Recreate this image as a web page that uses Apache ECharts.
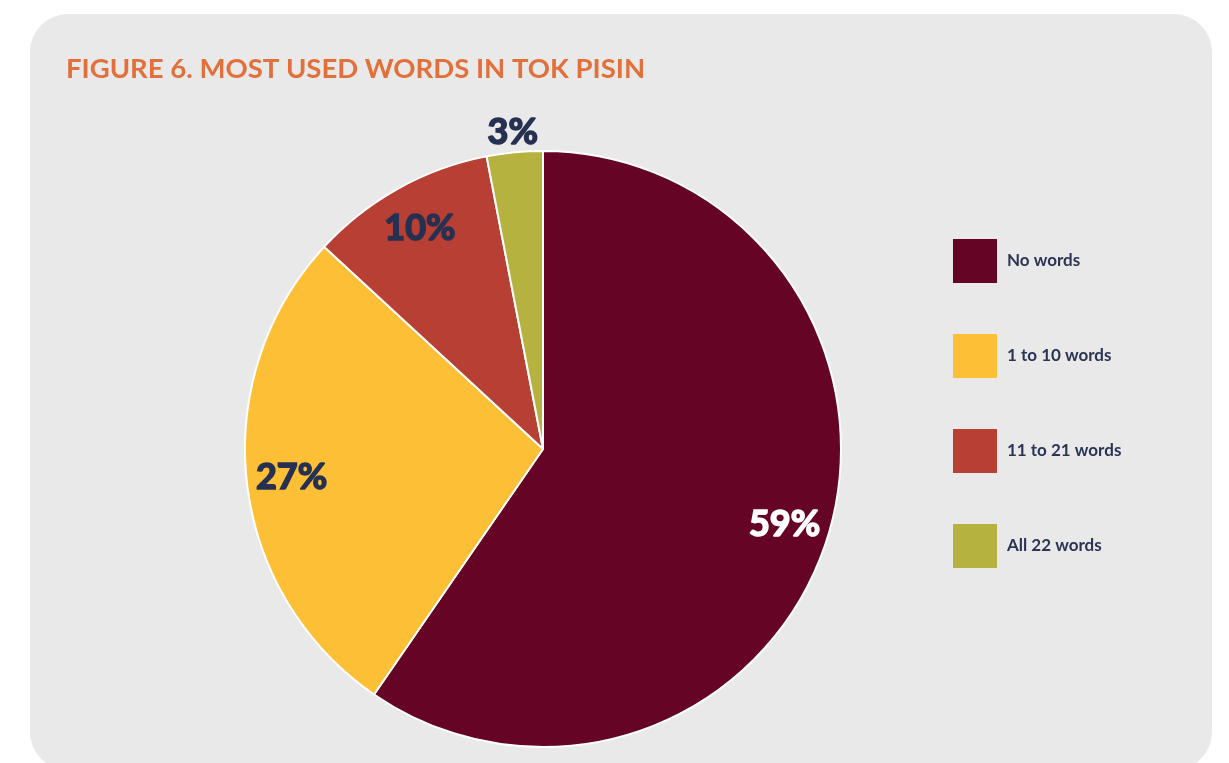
<!DOCTYPE html>
<html>
<head>
<meta charset="utf-8">
<script src="https://cdn.jsdelivr.net/npm/echarts@6/dist/echarts.min.js"></script>
<style>
  html, body { margin: 0; padding: 0; background: #ffffff; }
  #chart { width: 1229px; height: 763px; }
</style>
</head>
<body>
<div id="chart"></div>
<script>
// Share of respondents by number of Tok Pisin words used
const categories = ['No words', '1 to 10 words', '11 to 21 words', 'All 22 words'];
const shares = [59, 27, 10, 3];
const sliceColors = ['#650425', '#fdbf35', '#b83f34', '#b5b23f'];
const labelColors = ['#ffffff', '#263152', '#263152', '#263152'];

const chart = echarts.init(document.getElementById('chart'), null, { renderer: 'canvas' });

const pieCenter = [543, 449];
const labelFont = {
  fontFamily: 'Lato',
  fontWeight: 'bold',
  fontSize: 36
};

// Main slices
const mainData = categories.map((name, i) => ({
  name,
  value: shares[i],
  itemStyle: { color: sliceColors[i] }
}));

// Transparent copies of the slices, used only to place the percentage labels;
// a thin stroke in the text colour gives the heavy display weight
function labelData(showFor) {
  return categories.map((name, i) => ({
    name,
    value: shares[i],
    itemStyle: { color: 'rgba(0,0,0,0)' },
    label: {
      show: showFor(i),
      color: labelColors[i],
      textBorderColor: labelColors[i],
      textBorderWidth: 1.6
    }
  }));
}

const labelSeriesBase = {
  type: 'pie',
  center: pieCenter,
  startAngle: 90,
  clockwise: true,
  silent: true,
  legendHoverLink: false,
  avoidLabelOverlap: false,
  emphasis: { disabled: true },
  labelLine: { show: false },
  z: 3
};

const option = {
  animation: false,
  backgroundColor: '#ffffff',
  graphic: [{
    type: 'rect',
    z: -10,
    shape: { x: 30, y: 14, width: 1182, height: 756, r: 38 },
    style: { fill: '#e9e9e9' },
    silent: true
  }],
  title: {
    text: 'FIGURE 6. MOST USED WORDS IN TOK PISIN',
    left: 66,
    top: 55,
    padding: 0,
    textStyle: {
      fontFamily: 'Lato',
      fontWeight: 'bold',
      fontSize: 27.5,
      color: '#e2703a'
    }
  },
  legend: {
    data: categories,
    orient: 'vertical',
    left: 953,
    top: 239,
    padding: 0,
    itemWidth: 44,
    itemHeight: 44,
    itemGap: 51,
    icon: 'rect',
    selectedMode: false,
    itemStyle: { borderWidth: 0 },
    textStyle: {
      fontFamily: 'Lato',
      fontWeight: 'bold',
      fontSize: 17,
      color: '#2b3453',
      padding: [0, 0, 0, 5]
    }
  },
  series: [
    {
      name: 'Words used',
      type: 'pie',
      center: pieCenter,
      radius: 298,
      startAngle: 90,
      clockwise: true,
      avoidLabelOverlap: false,
      label: { show: false },
      labelLine: { show: false },
      itemStyle: { borderColor: '#ffffff', borderWidth: 2 },
      emphasis: { disabled: true },
      data: mainData
    },
    Object.assign({}, labelSeriesBase, {
      name: 'inner labels',
      radius: [0, 500],
      label: Object.assign({ position: 'inside', formatter: '{c}%' }, labelFont),
      data: labelData(i => i < 3)
    }),
    Object.assign({}, labelSeriesBase, {
      name: 'outer labels',
      radius: [0, 630],
      label: Object.assign({ position: 'inside', formatter: '{c}%' }, labelFont),
      data: labelData(i => i === 3)
    })
  ]
};

chart.setOption(option);
</script>
</body>
</html>
